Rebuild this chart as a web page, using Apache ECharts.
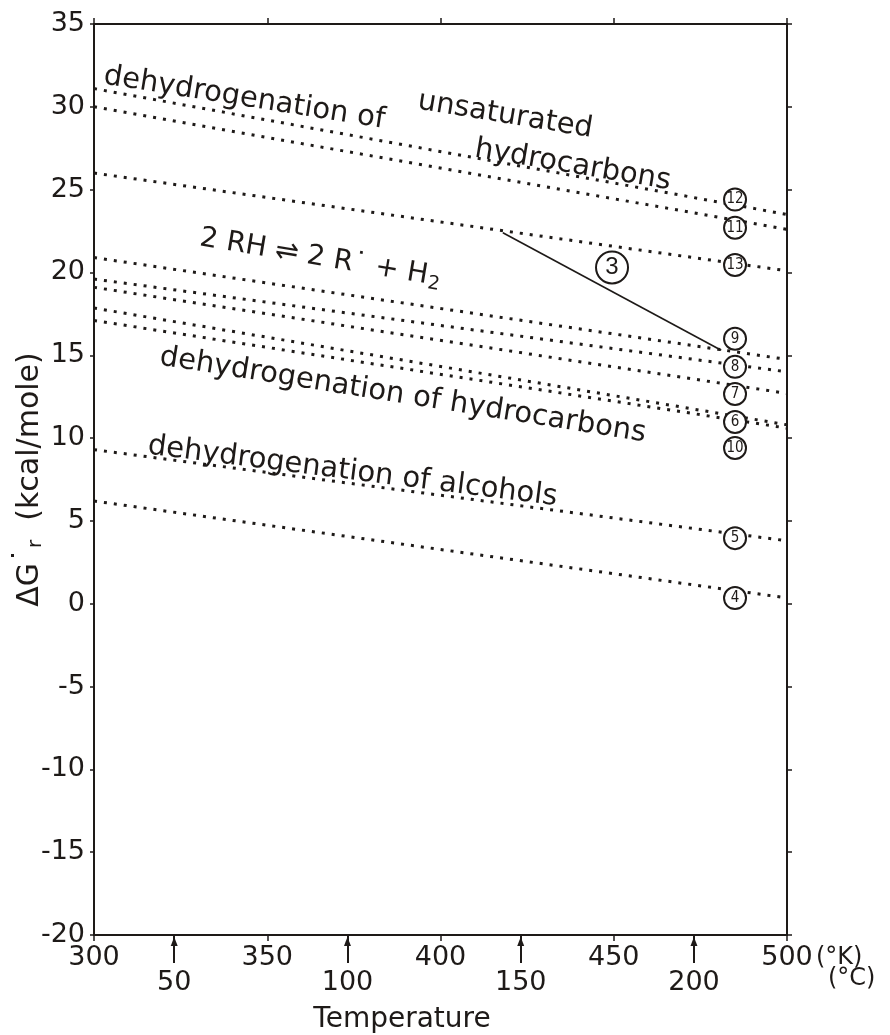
<!DOCTYPE html>
<html>
<head>
<meta charset="utf-8">
<script src="https://cdn.jsdelivr.net/npm/echarts@6/dist/echarts.min.js"></script>
<style>
html, body { margin: 0; padding: 0; background: #fff; }
#chart { width: 890px; height: 1035px; }
</style>
</head>
<body>
<div id="chart"></div>
<script>
// reaction numbers of the dotted lines, top to bottom
const lineNames = ['12', '11', '13', '9', '8', '7', '6', '10', '5', '4'];
// ΔG (kcal/mole) at 300 K and at 500 K
const dgAt300 = [31.1, 30.0, 26.0, 20.9, 19.6, 19.1, 17.85, 17.1, 9.3, 6.2];
const dgAt500 = [23.5, 22.6, 20.1, 14.75, 14.0, 12.7, 10.8, 10.6, 3.8, 0.35];
// circled numbers near the right edge
const labelT = 485;
const labelDg = [24.4, 22.7, 20.45, 16.0, 14.3, 12.66, 10.97, 9.4, 3.96, 0.34];
// solid line (3)
const line3T = [418, 481];
const line3Dg = [22.4, 15.3];
const line3Label = [449.5, 20.3];
// celsius marks under the kelvin axis
const celsiusTicks = [50, 100, 150, 200];

const INK = '#1e1a18';
const FONT = 'DejaVu Sans, sans-serif';

const chart = echarts.init(document.getElementById('chart'), null, { renderer: 'canvas' });

const dotted = lineNames.map((n, i) => ({
  type: 'line',
  name: n,
  data: [[300, dgAt300[i]], [500, dgAt500[i]]],
  symbol: 'none',
  silent: true,
  z: 2,
  lineStyle: { color: INK, width: 3, type: [3, 7] }
}));

const option = {
  animation: false,
  backgroundColor: '#fff',
  grid: { left: 94, right: 103, top: 24, bottom: 100, outerBoundsMode: 'none' },
  xAxis: [
    {
      type: 'value', position: 'bottom', min: 300, max: 500, interval: 50,
      axisLine: { onZero: false, lineStyle: { color: INK, width: 2 } },
      axisTick: { length: 6, lineStyle: { color: INK, width: 1.5 } },
      axisLabel: { color: INK, fontSize: 27, fontFamily: FONT, margin: 9 },
      splitLine: { show: false }
    },
    {
      type: 'value', position: 'bottom', min: 300 - 273.15, max: 500 - 273.15,
      axisLine: { show: false, onZero: false },
      axisTick: { show: true, customValues: celsiusTicks, length: 28, lineStyle: { color: INK, width: 2 } },
      axisLabel: { customValues: celsiusTicks, color: INK, fontSize: 27, fontFamily: FONT, margin: 34 },
      splitLine: { show: false }
    },
    {
      type: 'value', position: 'top', min: 300, max: 500, interval: 50,
      axisLine: { onZero: false, lineStyle: { color: INK, width: 2 } },
      axisTick: { length: 6, lineStyle: { color: INK, width: 1.5 } },
      axisLabel: { show: false },
      splitLine: { show: false }
    }
  ],
  yAxis: [
    {
      type: 'value', position: 'left', min: -20, max: 35, interval: 5,
      axisLine: { show: true, onZero: false, lineStyle: { color: INK, width: 2 } },
      axisTick: { show: true, length: 4, lineStyle: { color: INK, width: 1.5 } },
      axisLabel: { color: INK, fontSize: 27, fontFamily: FONT, margin: 9 },
      splitLine: { show: false },
      name: 'ΔG{dot|˙}{sub|r}  (kcal/mole)',
      nameLocation: 'middle',
      nameGap: 45,
      nameRotate: 90,
      nameMoveOverlap: false,
      nameTextStyle: {
        color: INK, fontSize: 30, fontFamily: FONT,
        rich: {
          dot: { fontSize: 30, fontFamily: FONT, color: INK, padding: [0, 0, 8, 0] },
          sub: { fontSize: 20, fontFamily: FONT, color: INK, padding: [12, 0, 0, 0] }
        }
      }
    },
    {
      type: 'value', position: 'right', min: -20, max: 35, interval: 5,
      axisLine: { show: true, onZero: false, lineStyle: { color: INK, width: 2 } },
      axisTick: { show: true, length: 5, lineStyle: { color: INK, width: 1.5 } },
      axisLabel: { show: false },
      splitLine: { show: false }
    }
  ],
  series: dotted.concat([
    {
      type: 'line',
      name: '3',
      data: line3T.map((t, i) => [t, line3Dg[i]]),
      symbol: 'none',
      silent: true,
      z: 3,
      lineStyle: { color: INK, width: 1.6 }
    },
    {
      type: 'scatter',
      data: lineNames.map((n, i) => ({ name: n, value: [labelT, labelDg[i]] })),
      symbol: 'circle',
      symbolSize: 22,
      silent: true,
      z: 5,
      itemStyle: { color: '#fff', borderColor: INK, borderWidth: 2, opacity: 1 },
      label: {
        show: true, position: 'inside', formatter: p => p.name,
        color: INK, fontSize: 15, fontFamily: 'Liberation Sans Narrow, DejaVu Sans Condensed, sans-serif'
      }
    },
    {
      type: 'scatter',
      data: [{ name: '3', value: line3Label }],
      symbol: 'circle',
      symbolSize: 32,
      silent: true,
      z: 5,
      itemStyle: { color: '#fff', borderColor: INK, borderWidth: 2, opacity: 1 },
      label: {
        show: true, position: 'inside', formatter: p => p.name,
        color: INK, fontSize: 24, fontFamily: 'Liberation Sans, sans-serif'
      }
    }
  ])
};

chart.setOption(option);

// annotations along the lines
const notes = [
  { text: 'dehydrogenation of', x: 104, y: 76, angle: 9 },
  { text: 'unsaturated', x: 418, y: 101, angle: 9.3 },
  { text: 'hydrocarbons', x: 475, y: 149, angle: 9.5 },
  { text: 'dehydrogenation of hydrocarbons', x: 160, y: 357, angle: 9 },
  { text: 'dehydrogenation of alcohols', x: 148, y: 446, angle: 7.2 }
];
const graphics = notes.map(n => ({
  type: 'text',
  x: n.x, y: n.y,
  rotation: -n.angle * Math.PI / 180,
  z: 10,
  style: { text: n.text, fill: INK, font: '29px DejaVu Sans, sans-serif', textAlign: 'left', textVerticalAlign: 'middle' }
}));
graphics.push({
  type: 'text',
  x: 200, y: 238,
  rotation: -9.5 * Math.PI / 180,
  z: 10,
  style: {
    text: '2 RH ⇌ 2 R˙ + H{sub|2}',
    fill: INK, font: '28px DejaVu Sans, sans-serif', textAlign: 'left', textVerticalAlign: 'middle',
    rich: { sub: { fontSize: 19, fontFamily: 'DejaVu Sans', fill: INK, padding: [14, 0, 0, 1] } }
  }
});
graphics.push(
  { type: 'text', x: 816, y: 958, style: { text: '(°K)', fill: INK, font: '24px DejaVu Sans, sans-serif', textAlign: 'left', textVerticalAlign: 'middle' } },
  { type: 'text', x: 828, y: 979, style: { text: '(°C)', fill: INK, font: '24px DejaVu Sans, sans-serif', textAlign: 'left', textVerticalAlign: 'middle' } },
  { type: 'text', x: 402, y: 1020, style: { text: 'Temperature', fill: INK, font: '28px DejaVu Sans, sans-serif', textAlign: 'center', textVerticalAlign: 'middle' } }
);
// arrow heads on the celsius marks
const axisBottom = chart.convertToPixel({ yAxisIndex: 0 }, -20);
celsiusTicks.forEach(c => {
  const px = chart.convertToPixel({ xAxisIndex: 1 }, c);
  graphics.push({
    type: 'polygon',
    z: 10,
    shape: { points: [[px, axisBottom + 2], [px - 3.5, axisBottom + 11], [px + 3.5, axisBottom + 11]] },
    style: { fill: INK }
  });
});
chart.setOption({ graphic: graphics });
</script>
</body>
</html>
